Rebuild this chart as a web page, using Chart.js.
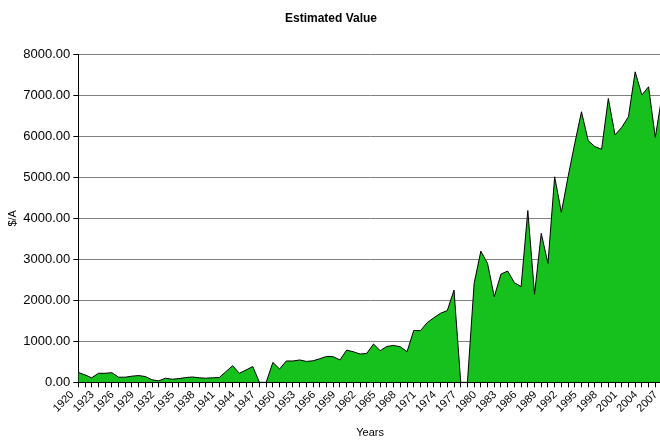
<!DOCTYPE html>
<html>
<head>
<meta charset="utf-8">
<script src="https://cdn.jsdelivr.net/npm/chart.js@4.4.0/dist/chart.umd.min.js"></script>
<style>
  html, body { margin: 0; padding: 0; background: #fff; overflow: hidden; }
  #wrap { width: 663px; height: 442px; }
</style>
</head>
<body>
<div id="wrap"><canvas id="myChart" width="663" height="442"></canvas></div>
<script>
// years 1920..2007
const years = [];
for (let y = 1920; y <= 2007; y++) years.push(String(y));

// estimated value, $/A
const values = [
	240, 180, 110, 220, 220, 235, 125, 125, 150, 165,   // 1920-1929
	140, 60, 35, 100, 75, 90, 115, 130, 110, 100,        // 1930-1939
	110, 115, 260, 405, 220, 300, 385, 0, 0, 485,        // 1940-1949
	325, 520, 520, 545, 510, 525, 575, 630, 625, 545,    // 1950-1959
	785, 745, 690, 705, 935, 772, 875, 900, 865, 748,    // 1960-1969
	1265, 1260, 1455, 1575, 1685, 1750, 2250, 0, 0, 2415, // 1970-1979
	3200, 2900, 2090, 2640, 2715, 2430, 2335, 4190, 2150, 3635, // 1980-1989
	2900, 5015, 4145, 5015, 5830, 6600, 5895, 5750, 5685, 6925, // 1990-1999
	6035, 6220, 6480, 7575, 7010, 7210, 5975, 7000       // 2000-2007
];

const yTicks = [0, 1000, 2000, 3000, 4000, 5000, 6000, 7000, 8000];

const font = 'Liberation Sans, Arial, sans-serif';

const ctx = document.getElementById('myChart').getContext('2d');
const myChart = new Chart(ctx, {
	type: 'line',
	data: {
		labels: years,
		datasets: [{
			data: values,
			fill: 'origin',
			backgroundColor: '#16c11e',
			borderColor: '#000',
			borderWidth: 1,
			pointRadius: 0,
			tension: 0
		}]
	},
	options: {
		responsive: false,
		animation: false,
		events: [],
		layout: { padding: { left: 0, right: 1, top: 0, bottom: 0 } },
		plugins: {
			legend: { display: false },
			tooltip: { enabled: false },
			title: {
				display: true,
				text: 'Estimated Value',
				color: '#000',
				font: { family: font, size: 12, weight: 'bold' },
				padding: { top: 11, bottom: 29 }
			}
		},
		scales: {
			x: {
				offset: false,
				grid: { drawOnChartArea: false, drawTicks: true, tickLength: 5, color: '#000' },
				border: { color: '#000', width: 1 },
				ticks: {
					autoSkip: false,
					maxRotation: 45,
					minRotation: 45,
					padding: 1,
					labelOffset: -6,
					color: '#000',
					font: { family: font, size: 11 },
					callback: function(val, i) {
						return i % 3 === 0 ? years[i] : '';
					}
				},
				title: {
					display: true,
					text: 'Years',
					color: '#000',
					font: { family: font, size: 11 },
					padding: { top: 0, bottom: 2 }
				},
				afterFit: function(s) { s.paddingLeft = 0; s.paddingRight = 0; s.height = 59.7; }
			},
			y: {
				min: 0,
				max: 8000,
				afterBuildTicks: function(s) { s.ticks = yTicks.map(v => ({ value: v })); },
				grid: { color: '#808080', tickColor: '#000', tickLength: 5 },
				border: { color: '#000', width: 1 },
				ticks: {
					padding: 3,
					color: '#000',
					font: { family: font, size: 13 },
					callback: function(v) { return Number(v).toFixed(2); }
				},
				title: {
					display: true,
					text: '$/A',
					color: '#000',
					font: { family: font, size: 11 },
					padding: { top: 6, bottom: 0 }
				},
				afterFit: function(s) { s.width = 78.3; }
			}
		}
	}
});
</script>
</body>
</html>
